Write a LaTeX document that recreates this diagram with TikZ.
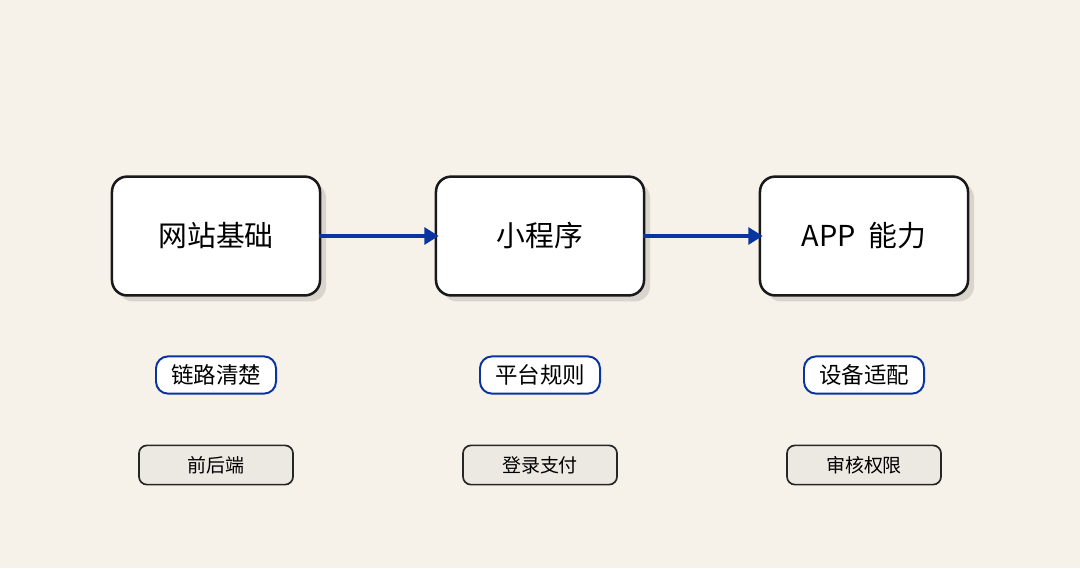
\documentclass[tikz,border=0pt]{standalone}
\usepackage{fontspec}
\setmainfont{Noto Sans CJK SC}
\usetikzlibrary{shadows, arrows.meta}
\definecolor{bgpaper}{HTML}{F6F2EA}
\definecolor{inkblue}{HTML}{0A35A0}
\definecolor{tagfill}{HTML}{ECE9E2}
\definecolor{shade}{HTML}{D9D5CC}
\tikzset{
  stagebox/.style = {draw=black!90, line width=1.8pt, fill=white, rounded corners=0.38cm,
    minimum width=5.2cm, minimum height=2.97cm, font=\fontsize{20.5}{22}\selectfont,
    drop shadow={shadow xshift=0.15cm, shadow yshift=-0.15cm, fill=shade, opacity=1}},
  bluetag/.style = {draw=inkblue, line width=1.4pt, fill=white, rounded corners=0.3cm,
    minimum width=3cm, minimum height=0.93cm, font=\fontsize{16}{18}\selectfont},
  greytag/.style = {draw=black!85, line width=1.2pt, fill=tagfill, rounded corners=0.2cm,
    minimum width=3.85cm, minimum height=0.98cm, font=\fontsize{13.5}{15}\selectfont},
  flow/.style = {draw=inkblue, line width=3.2pt, -{Triangle[length=0.36cm, width=0.42cm]}}
}
\begin{document}
\begin{tikzpicture}[x=0.025cm, y=-0.025cm]
\fill[bgpaper] (0, 0) rectangle (1080, 568);
\useasboundingbox (0, 0) rectangle (1080, 568);
% stages
\node[stagebox] (web) at (216, 236) {网站基础};
\node[stagebox] (mini) at (540, 236) {小程序};
\node[stagebox] (app) at (864, 236) {APP\ \ 能力};
\draw[flow] ([xshift=-0.05cm]web.east) -- ([xshift=0.1cm]mini.west);
\draw[flow] ([xshift=-0.05cm]mini.east) -- ([xshift=0.1cm]app.west);
% tags
\node[bluetag] (t1) at (216, 375) {链路清楚};
\node[bluetag] (t2) at (540, 375) {平台规则};
\node[bluetag] (t3) at (864, 375) {设备适配};
\node[greytag] (g1) at (216, 465) {前后端};
\node[greytag] (g2) at (540, 465) {登录支付};
\node[greytag] (g3) at (864, 465) {审核权限};
\end{tikzpicture}
\end{document}
